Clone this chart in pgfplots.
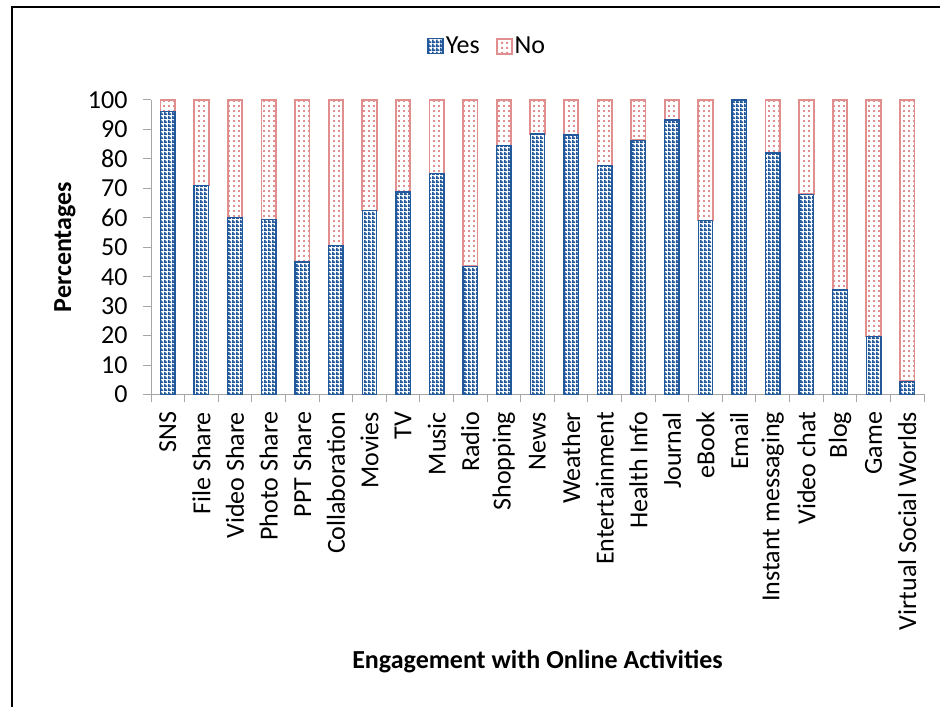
\documentclass[border=0pt]{standalone}
\usepackage{pgfplots}
\pgfplotsset{compat=1.18}
\usepackage{fontspec}
\setmainfont{Carlito}
\usetikzlibrary{patterns}
\definecolor{yesblue}{HTML}{23599B}
\definecolor{nopink}{HTML}{E08E8E}
\definecolor{axgray}{HTML}{A6A6A6}
\pgfdeclarepatternformonly{checker}{\pgfpointorigin}{\pgfpoint{4pt}{4pt}}{\pgfpoint{4pt}{4pt}}{%
  \pgfpathrectangle{\pgfpointorigin}{\pgfpoint{4pt}{2pt}}%
  \pgfpathrectangle{\pgfpoint{0pt}{2pt}}{\pgfpoint{2pt}{2pt}}%
  \pgfusepath{fill}}
\pgfdeclarepatternformonly{pinkdots}{\pgfpointorigin}{\pgfpoint{4.5pt}{4.5pt}}{\pgfpoint{4.5pt}{4.5pt}}{%
  \pgfpathrectangle{\pgfpoint{1.2pt}{1.2pt}}{\pgfpoint{2pt}{2pt}}%
  \pgfusepath{fill}}
\pgfplotstableread{
idx yes no
0 96 4
1 71 29
2 60 40
3 59.4 40.6
4 45 55
5 50.5 49.5
6 62.5 37.5
7 68.7 31.3
8 75 25
9 43.5 56.5
10 84.5 15.5
11 88.4 11.6
12 88.1 11.9
13 77.7 22.3
14 86.3 13.7
15 93.2 6.8
16 59.1 40.9
17 100 0
18 82 18
19 68 32
20 35.5 64.5
21 19.7 80.3
22 4.5 95.5
}\datatable
\begin{document}
\begin{tikzpicture}[x=1pt,y=1pt]
\useasboundingbox (0,0) rectangle (940,707);
\draw[line width=2pt] (12,0) -- (12,700) -- (941,700);
\begin{axis}[
  at={(151pt,312.5pt)}, anchor=south west,
  scale only axis, width=773pt, height=294.5pt,
  ybar stacked, bar width=0.43,
  xmin=-0.5, xmax=22.5, ymin=0, ymax=100,
  ytick={0,10,...,100},
  xtick={0,...,22},
  xticklabels={SNS,File Share,Video Share,Photo Share,PPT Share,Collaboration,Movies,TV,Music,Radio,Shopping,News,Weather,Entertainment,Health Info,Journal,eBook,Email,Instant messaging,Video chat,Blog,Game,Virtual Social Worlds},
  minor xtick={-0.5,0.5,...,22.5},
  major x tick style={draw=none},
  minor tick length=8pt, major tick length=8pt,
  tick align=outside,
  tick style={axgray, line width=1pt},
  axis x line*=bottom, axis y line*=left,
  axis line style={axgray, line width=1pt, -},
  /pgf/number format/assume math mode=true,
  tick label style={font=\fontsize{26}{30}\selectfont},
  xticklabel style={rotate=90, anchor=east, xshift=-6pt},
  yticklabel style={xshift=-12pt},
  legend style={at={(0.435,1.183)}, anchor=center, draw=none, legend columns=2,
    font=\fontsize{26}{30}\selectfont, /tikz/every even column/.append style={column sep=14pt},
    /tikz/every odd column/.append style={}},
  legend image code/.code={\draw[#1] (0pt,-7.5pt) rectangle (15pt,7.5pt);},
  clip=false,
]
\addplot[draw=yesblue, line width=1.4pt, fill=white, postaction={pattern=checker, pattern color=yesblue}] table[x=idx,y=yes]{\datatable};
\addplot[draw=nopink, line width=1.8pt, fill=white, postaction={pattern=pinkdots, pattern color=nopink}] table[x=idx,y=no]{\datatable};
\legend{Yes,No}
\end{axis}
\node[font=\bfseries\fontsize{26}{30}\selectfont] at (537.5,45) {Engagement with Online Activities};
\node[font=\bfseries\fontsize{26}{30}\selectfont, rotate=90] at (65,460) {Percentages};
\end{tikzpicture}
\end{document}
